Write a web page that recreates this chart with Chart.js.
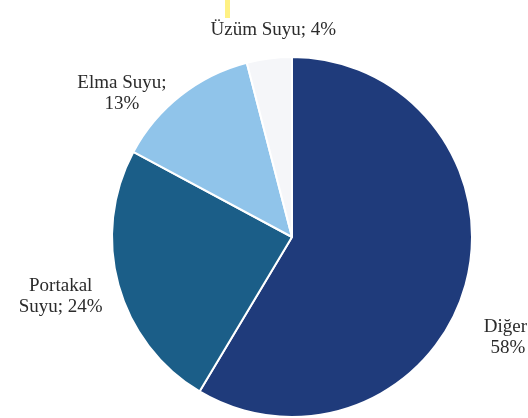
<!DOCTYPE html>
<html lang="tr">

<head>
    <meta charset="UTF-8">
    <script src="https://cdn.jsdelivr.net/npm/chart.js@4.4.0/dist/chart.umd.min.js"></script>
    <style>
        body { margin: 0; background: #ffffff; }
        #wrap { width: 528px; height: 418px; position: relative; }
    </style>
    <title>Meyve suyu payları</title>
</head>

<body>
    <div id="wrap"><canvas id="pieChart"></canvas></div>

    <script>
        // data
        var categories = ['Diğer', 'Portakal Suyu', 'Elma Suyu', 'Üzüm Suyu'];
        var shares = [58, 24, 13, 4];
        var sliceColors = ['#1f3b7b', '#1b5e88', '#90c4ea', '#f5f6f9'];

        // label text lines, and where they sit relative to the pie (in radius units)
        var labelLines = [
            ['Diğer;', '58%'],
            ['Portakal', 'Suyu; 24%'],
            ['Elma Suyu;', '13%'],
            ['Üzüm Suyu; 4%']
        ];
        var labelSpots = [
            [1.2, 0.53],
            [-1.285, 0.3],
            [-0.945, -0.83],
            [-0.104, -1.12]
        ];

        var sliceLabels = {
            id: 'sliceLabels',
            afterDraw: function (chart) {
                var arc = chart.getDatasetMeta(0).data[0];
                var ctx = chart.ctx;
                var r = arc.outerRadius;
                ctx.save();
                ctx.font = '19px "Liberation Serif", "Times New Roman", serif';
                ctx.fillStyle = '#2b2b2b';
                ctx.textAlign = 'center';
                ctx.textBaseline = 'alphabetic';
                labelLines.forEach(function (lines, i) {
                    var x = arc.x + labelSpots[i][0] * r;
                    var y = arc.y + labelSpots[i][1] * r;
                    lines.forEach(function (t, j) {
                        ctx.fillText(t, x, y + j * 21);
                    });
                });
                // faint yellow streak at the top of the scan
                ctx.fillStyle = 'rgba(255, 236, 90, 0.75)';
                ctx.fillRect(arc.x - 67, 0, 5, 18);
                ctx.restore();
            }
        };

        new Chart(document.getElementById('pieChart'), {
            type: 'pie',
            data: {
                labels: categories,
                datasets: [{
                    data: shares,
                    backgroundColor: sliceColors,
                    borderColor: '#ffffff',
                    borderWidth: 2
                }]
            },
            options: {
                responsive: true,
                maintainAspectRatio: false,
                animation: false,
                layout: { padding: { left: 56, right: 0, top: 56, bottom: 0 } },
                plugins: {
                    legend: { display: false },
                    tooltip: { enabled: false }
                }
            },
            plugins: [sliceLabels]
        });
    </script>
</body>

</html>
